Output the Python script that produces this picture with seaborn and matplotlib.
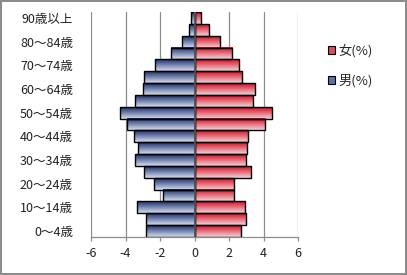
import numpy as np
import pandas as pd
import matplotlib
matplotlib.use("Agg")
import matplotlib.pyplot as plt
from matplotlib.patches import Patch
import seaborn as sns

# Age groups (youngest first) and share of population (%)
ages = ["0～4歳", "5～9歳", "10～14歳", "15～19歳", "20～24歳", "25～29歳",
        "30～34歳", "35～39歳", "40～44歳", "45～49歳", "50～54歳", "55～59歳",
        "60～64歳", "65～69歳", "70～74歳", "75～79歳", "80～84歳", "85～89歳",
        "90歳以上"]
male = [2.84, 2.84, 3.33, 1.81, 2.34, 2.92, 3.44, 3.27, 3.50, 3.92, 4.31, 3.44,
        3.01, 2.92, 2.28, 1.35, 0.74, 0.32, 0.20]
female = [2.72, 3.01, 2.95, 2.30, 2.30, 3.30, 2.99, 3.07, 3.13, 4.06, 4.47, 3.42,
          3.53, 2.78, 2.60, 2.20, 1.50, 0.86, 0.40]
xticks = [-6, -4, -2, 0, 2, 4, 6]
label_f = "女(%)"
label_m = "男(%)"

sns.set_theme(style="white")
plt.rcParams["font.family"] = ["Noto Sans CJK JP", "DejaVu Sans"]

df = pd.concat([
    pd.DataFrame({"age": ages, "value": [-v for v in male], "sex": label_m}),
    pd.DataFrame({"age": ages, "value": female, "sex": label_f}),
])
order = ages[::-1]

fig = plt.figure(figsize=(4.07, 2.75), dpi=100)
fig.patch.set_edgecolor("#8c8c8c")
fig.patch.set_linewidth(1.5)
ax = fig.add_axes([91 / 407, 1 - 237 / 275, 207 / 407, 225 / 275])

sns.barplot(data=df, x="value", y="age", hue="sex", order=order,
            hue_order=[label_m, label_f], dodge=False, width=1.0,
            orient="h", ax=ax, legend=False, edgecolor="black", linewidth=1.0)

top_m = np.array([0.10, 0.18, 0.43])
bot_m = np.array([0.84, 0.87, 0.93])
top_f = np.array([0.86, 0.04, 0.12])
bot_f = np.array([0.93, 0.84, 0.86])

def gradient(top, bot, n=64):
    t = np.linspace(0, 1, n)[:, None]
    cols = top[None, :] * (1 - t) + bot[None, :] * t
    return cols[:, None, :]

for p in ax.patches:
    x0, y0, w, h = p.get_x(), p.get_y(), p.get_width(), p.get_height()
    if w == 0:
        continue
    left, right = min(x0, x0 + w), max(x0, x0 + w)
    img = gradient(top_m, bot_m) if left < 0 else gradient(top_f, bot_f)
    ax.imshow(img, extent=(left, right, y0 + h, y0), origin="upper",
              aspect="auto", zorder=p.get_zorder() - 0.01)
    p.set_facecolor("none")
    p.set_zorder(3)

ax.set_xlim(-6, 6)
ax.set_ylim(len(ages) - 0.5, -0.5)
ax.set_xticks(xticks)
ax.set_xticklabels([str(v) for v in xticks], fontsize=9, color="#222222")
ax.set_yticks(range(len(order)))
ax.set_yticklabels([a if (len(ages) - 1 - i) % 2 == 0 else "" for i, a in enumerate(order)],
                   fontsize=9, color="#222222")
ax.set_xlabel("")
ax.set_ylabel("")

ax.xaxis.grid(True, color="#8c8c8c", linewidth=0.9)
ax.set_axisbelow(True)
ax.axvline(0, color="#555555", linewidth=1.3, zorder=4)
for s in ["top", "right", "left"]:
    ax.spines[s].set_visible(False)
ax.spines["bottom"].set_color("#8c8c8c")
ax.spines["bottom"].set_linewidth(0.9)
ax.tick_params(axis="x", bottom=True, length=3, width=0.9, color="#8c8c8c", pad=4)
ax.tick_params(axis="y", left=False, pad=7)

handles = [Patch(facecolor=(0.86, 0.30, 0.36), edgecolor="black", linewidth=0.8, label=label_f),
           Patch(facecolor=(0.36, 0.45, 0.66), edgecolor="black", linewidth=0.8, label=label_m)]
fig.legend(handles=handles, loc="upper left", bbox_to_anchor=(328 / 407, 1 - 44 / 275),
           frameon=False, fontsize=9.5, handlelength=0.5, handleheight=0.5,
           handletextpad=0.3, labelspacing=1.27, borderpad=0, borderaxespad=0)

fig.savefig("out.png", dpi=100, edgecolor=fig.get_edgecolor())
